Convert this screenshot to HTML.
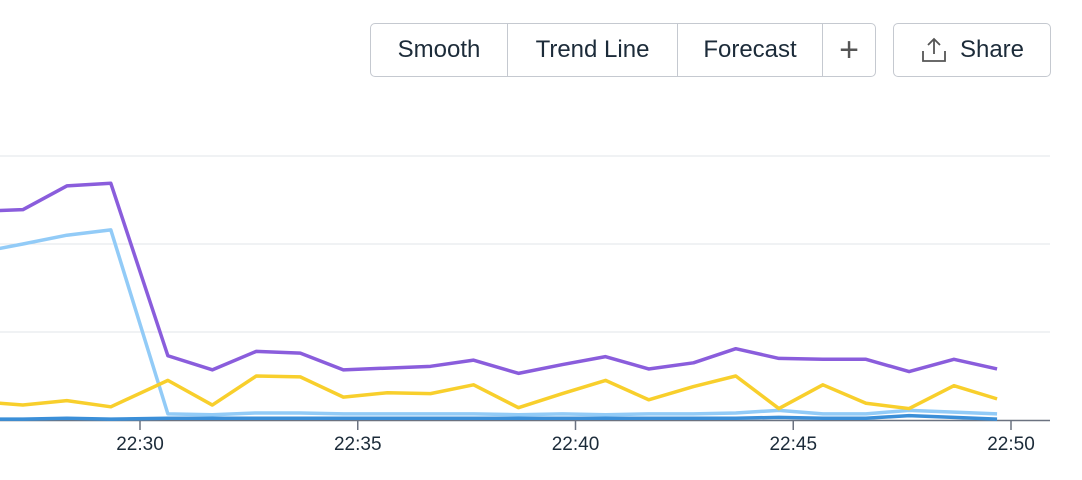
<!DOCTYPE html>
<html><head><meta charset="utf-8"><style>
body{margin:0;width:1082px;height:480px;background:#fff;font-family:"Liberation Sans",sans-serif;overflow:hidden;position:relative}
.grp{position:absolute;left:370px;top:23px;border:1px solid #c5c9d0;border-radius:5px;display:flex;box-sizing:border-box;height:54px}
.grp div{display:flex;align-items:center;justify-content:center;font-size:24px;color:#1c2b39;border-right:1px solid #c5c9d0;box-sizing:border-box}
.grp div:last-child{border-right:none}
.share{position:absolute;left:893px;top:23px;width:158px;height:54px;box-sizing:border-box;border:1px solid #c5c9d0;border-radius:5px;display:flex;align-items:center;justify-content:center;font-size:24px;color:#1c2b39;gap:12px}
</style></head><body>
<div class="grp">
<div style="width:137px">Smooth</div>
<div style="width:170px">Trend Line</div>
<div style="width:145px">Forecast</div>
<div style="width:52px;font-size:34px;font-weight:300;color:#555">+</div>
</div>
<div class="share"><svg width="28" height="28" viewBox="0 0 28 28"><path d="M14 3v15M8 9l6-6 6 6M3 15v10h22V15" fill="none" stroke="#555" stroke-width="1.8"/></svg>Share</div>
<svg id="c" width="1082" height="480" style="position:absolute;left:0;top:0"></svg>
<script>
const times=[-3.22,-2.69,-1.68,-0.67,0.64,1.66,2.67,3.68,4.67,5.68,6.67,7.66,8.69,9.70,10.69,11.68,12.71,13.68,14.67,15.68,16.67,17.66,18.69,19.68];
const purple=[2.38,2.39,2.66,2.69,0.73,0.57,0.78,0.76,0.57,0.59,0.61,0.68,0.53,0.63,0.72,0.58,0.65,0.81,0.70,0.69,0.69,0.55,0.69,0.58];
const yellow=[0.19,0.17,0.22,0.15,0.45,0.17,0.50,0.49,0.26,0.31,0.30,0.40,0.14,0.30,0.45,0.23,0.38,0.50,0.13,0.40,0.19,0.13,0.39,0.24];
const lightblue=[1.95,2.00,2.10,2.16,0.07,0.06,0.08,0.08,0.07,0.07,0.07,0.07,0.06,0.07,0.06,0.07,0.07,0.08,0.11,0.07,0.07,0.11,0.09,0.07];
const darkblue=[0.01,0.01,0.02,0.01,0.02,0.02,0.02,0.02,0.02,0.02,0.02,0.02,0.02,0.02,0.02,0.02,0.02,0.02,0.03,0.02,0.02,0.05,0.03,0.01];
const tickMins=[0,5,10,15,20];
const tickLabels=["22:30","22:35","22:40","22:45","22:50"];
const grid=[1,2,3];
const X=m=>140+m*43.55, Y=v=>420-v*88;
const s=document.getElementById('c'),NS='http://www.w3.org/2000/svg';
function mk(t,a){const e=document.createElementNS(NS,t);for(const k in a)e.setAttribute(k,a[k]);s.appendChild(e);return e;}
grid.forEach(g=>{const l=mk('line',{x1:0,x2:1050,y1:Y(g),y2:Y(g),stroke:'#e2e4e8','stroke-width':1});

});
const ax=mk('line',{x1:0,x2:1050,y1:420.5,y2:420.5,stroke:'#6b7280','stroke-width':1.5});


tickMins.forEach((m,i)=>{const t=mk('line',{x1:X(m),x2:X(m),y1:420,y2:430,stroke:'#6b7280','stroke-width':1.5});


const tx=mk('text',{x:X(m),y:450,'text-anchor':'middle','font-size':19,fill:'#1c2b39','font-family':'Liberation Sans, sans-serif'});tx.textContent=tickLabels[i];

});
function line(vals,col,name){const p=mk('polyline',{points:vals.map((v,i)=>X(times[i])+','+Y(v)).join(' '),fill:'none',stroke:col,'stroke-width':3.5,'stroke-linejoin':'round'});

}
line(darkblue,'#3b8fd8','series-dark-blue');
line(lightblue,'#92cbf7','series-light-blue');
line(yellow,'#f8cf2c','series-yellow');
line(purple,'#8a5ddc','series-purple');
</script>
</body></html>
